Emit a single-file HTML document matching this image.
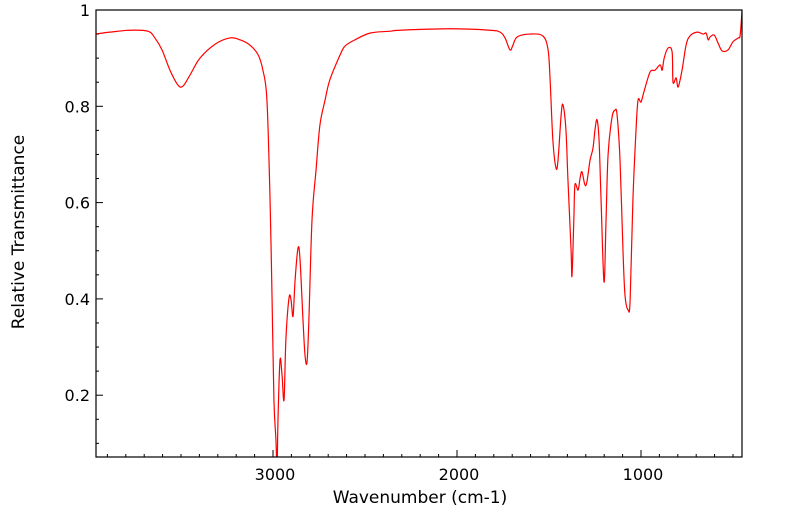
<!DOCTYPE html>
<html><head><meta charset="utf-8"><style>
html,body{margin:0;padding:0;background:#fff;}
svg{display:block;font-family:"DejaVu Sans","Liberation Sans",sans-serif;}
</style></head><body>
<svg id="chart" width="799" height="516" viewBox="0 0 799 516" xmlns="http://www.w3.org/2000/svg">
<defs><clipPath id="pc"><rect x="96" y="10" width="646" height="447"/></clipPath></defs>
<g id="ticks"></g>
<path id="spec" fill="none" stroke="#ff0000" stroke-width="1.2" clip-path="url(#pc)"/>
<rect x="96" y="10" width="646" height="447" fill="none" stroke="#000" stroke-width="1.2"/>
<text x="420" y="503" font-size="17" text-anchor="middle">Wavenumber (cm-1)</text>
<text transform="translate(24,232) rotate(-90)" font-size="17" text-anchor="middle">Relative Transmittance</text>
</svg>
<script>
const wavenumbers=[3967,3886,3778,3680,3642,3603,3560,3516,3489,3451,3397,3315,3234,3179,3125,3081,3055,3033,3016,3005,2995,2984,2978,2973,2962,2951,2940,2930,2913,2902,2891,2880,2864,2853,2837,2826,2815,2805,2788,2766,2745,2717,2691,2635,2609,2555,2473,2364,2310,2038,1821,1766,1739,1712,1696,1673,1604,1533,1505,1494,1479,1462,1451,1434,1424,1408,1397,1380,1375,1365,1359,1342,1331,1321,1305,1294,1277,1261,1250,1239,1228,1217,1201,1190,1179,1158,1141,1130,1114,1098,1087,1070,1059,1044,1027,1016,1000,984,951,924,896,885,874,853,831,826,809,798,777,755,734,695,663,646,635,624,602,581,559,527,500,472,461,450];
const transmittance=[0.950,0.954,0.958,0.956,0.942,0.917,0.875,0.844,0.842,0.865,0.900,0.929,0.942,0.938,0.927,0.907,0.875,0.813,0.605,0.398,0.190,0.107,0.045,0.148,0.273,0.242,0.190,0.315,0.402,0.398,0.364,0.439,0.506,0.481,0.356,0.283,0.269,0.356,0.564,0.668,0.761,0.813,0.855,0.907,0.925,0.938,0.952,0.956,0.958,0.961,0.958,0.954,0.942,0.917,0.927,0.944,0.950,0.946,0.917,0.855,0.730,0.672,0.688,0.782,0.803,0.751,0.647,0.501,0.448,0.564,0.637,0.626,0.651,0.664,0.637,0.643,0.688,0.713,0.751,0.772,0.730,0.605,0.435,0.564,0.699,0.776,0.792,0.782,0.688,0.501,0.408,0.377,0.398,0.605,0.751,0.813,0.809,0.830,0.871,0.875,0.886,0.875,0.900,0.921,0.913,0.850,0.859,0.840,0.875,0.927,0.946,0.954,0.950,0.952,0.938,0.944,0.948,0.931,0.915,0.917,0.934,0.942,0.948,1.004];
const xTickLabels=[3000,2000,1000];
const yTickLabels=["0.2","0.4","0.6","0.8","1"];
const NS='http://www.w3.org/2000/svg';
const X0=96,X1=742,Y0=10,Y1=457;
function xs(w){return 273+(3000-w)*0.184;}
function ys(t){return 10+(1-t)*481.5;}
const g=document.getElementById('ticks');
function line(x1,y1,x2,y2){const l=document.createElementNS(NS,'line');l.setAttribute('x1',x1);l.setAttribute('y1',y1);l.setAttribute('x2',x2);l.setAttribute('y2',y2);l.setAttribute('stroke','#000');l.setAttribute('stroke-width','1');g.appendChild(l);return l;}
function text(x,y,s,anchor){const t=document.createElementNS(NS,'text');t.setAttribute('x',x);t.setAttribute('y',y);t.setAttribute('font-size','16');t.setAttribute('text-anchor',anchor);t.textContent=s;g.appendChild(t);return t;}
for(let w=3900;w>=400;w-=100){const x=xs(w);if(x<X0||x>X1)continue;const major=w%1000===0;
const l=line(x,Y1,x,Y1-(major?7:3));

}
xTickLabels.forEach(v=>{const t=text(xs(v)+2,480,String(v),'middle');

});
for(let i=2;i<=20;i++){const v=i*0.05;const y=ys(v);if(y>Y1||y<Y0)continue;const major=i%4===0;
const l=line(X0,y,X0+(major?7:3),y);

}
yTickLabels.forEach(s=>{const t=text(90,ys(parseFloat(s))+6,s,'end');

});
const pts=wavenumbers.map((w,i)=>[xs(w),ys(transmittance[i])]);
let d='M'+pts[0][0].toFixed(2)+','+pts[0][1].toFixed(2);
for(let i=0;i<pts.length-1;i++){const p0=pts[Math.max(0,i-1)],p1=pts[i],p2=pts[i+1],p3=pts[Math.min(pts.length-1,i+2)];
const c1=[p1[0]+(p2[0]-p0[0])/6,p1[1]+(p2[1]-p0[1])/6],c2=[p2[0]-(p3[0]-p1[0])/6,p2[1]-(p3[1]-p1[1])/6];
d+=' C'+c1[0].toFixed(2)+','+c1[1].toFixed(2)+' '+c2[0].toFixed(2)+','+c2[1].toFixed(2)+' '+p2[0].toFixed(2)+','+p2[1].toFixed(2);}
document.getElementById('spec').setAttribute('d',d);
</script>
</body></html>
